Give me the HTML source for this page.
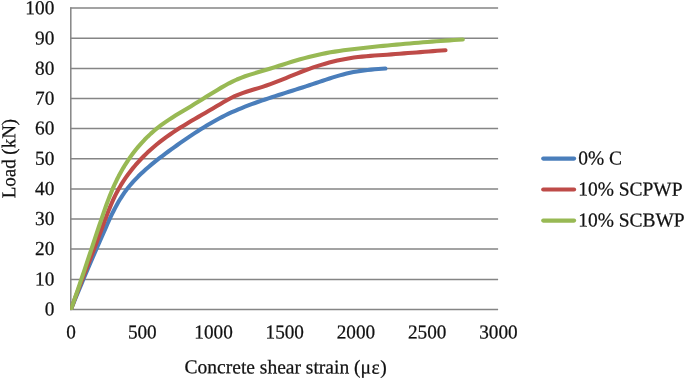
<!DOCTYPE html>
<html><head><meta charset="utf-8"><style>
html,body{margin:0;padding:0;background:#fff;}
svg{display:block;}
text{font-family:"Liberation Serif",serif;font-size:19.6px;fill:#111;stroke:#111;stroke-width:0.25;}
.g line{stroke:#858585;stroke-width:1.5;}
.s path{fill:none;stroke-width:4.1;stroke-linecap:round;stroke-linejoin:round;}
.l line{stroke-width:4.1;stroke-linecap:round;}
</style></head><body>
<svg width="685" height="379" viewBox="0 0 685 379">
<rect width="685" height="379" fill="#fff"/>
<g class="g">
<line x1="70.30" y1="309.60" x2="498.10" y2="309.60"/>
<line x1="70.30" y1="279.40" x2="498.10" y2="279.40"/>
<line x1="70.30" y1="249.10" x2="498.10" y2="249.10"/>
<line x1="70.30" y1="218.90" x2="498.10" y2="218.90"/>
<line x1="70.30" y1="189.00" x2="498.10" y2="189.00"/>
<line x1="70.30" y1="158.80" x2="498.10" y2="158.80"/>
<line x1="70.30" y1="128.50" x2="498.10" y2="128.50"/>
<line x1="70.30" y1="98.55" x2="498.10" y2="98.55"/>
<line x1="70.30" y1="68.50" x2="498.10" y2="68.50"/>
<line x1="70.30" y1="38.30" x2="498.10" y2="38.30"/>
<line x1="70.30" y1="8.05" x2="498.10" y2="8.05"/>
<line x1="70.8" y1="7.3" x2="70.8" y2="310.3"/>
</g>
<clipPath id="c"><rect x="70.2" y="0" width="440" height="310.1"/></clipPath>
<g class="s" clip-path="url(#c)">
<path stroke="#4a7ebb" d="M71.00 309.30 L72.35 305.95 L73.70 302.62 L75.05 299.30 L76.41 295.99 L77.78 292.69 L79.15 289.40 L80.52 286.11 L81.89 282.84 L83.27 279.57 L84.66 276.30 L86.05 273.04 L87.44 269.78 L88.84 266.53 L90.24 263.28 L91.64 260.02 L93.05 256.77 L94.47 253.52 L95.88 250.26 L97.30 247.00 L98.73 243.74 L100.16 240.47 L101.59 237.20 L103.03 233.91 L104.48 230.63 L105.93 227.33 L107.39 224.04 L108.88 220.75 L110.39 217.48 L111.94 214.23 L113.54 211.01 L115.18 207.82 L116.88 204.68 L118.65 201.58 L120.48 198.53 L122.40 195.55 L124.40 192.64 L126.49 189.79 L128.66 187.02 L130.92 184.31 L133.25 181.67 L135.66 179.09 L138.13 176.56 L140.67 174.08 L143.26 171.66 L145.90 169.28 L148.59 166.94 L151.32 164.65 L154.09 162.39 L156.89 160.16 L159.72 157.96 L162.57 155.79 L165.43 153.64 L168.31 151.51 L171.20 149.39 L174.09 147.29 L177.00 145.22 L179.91 143.15 L182.84 141.11 L185.78 139.09 L188.73 137.09 L191.69 135.12 L194.67 133.16 L197.66 131.23 L200.67 129.33 L203.69 127.45 L206.73 125.60 L209.79 123.78 L212.87 121.99 L215.97 120.24 L219.09 118.53 L222.24 116.87 L225.42 115.27 L228.63 113.72 L231.86 112.23 L235.12 110.79 L238.39 109.39 L241.68 108.04 L244.99 106.72 L248.31 105.44 L251.64 104.19 L254.98 102.96 L258.33 101.77 L261.70 100.60 L265.07 99.45 L268.45 98.32 L271.84 97.21 L275.23 96.11 L278.62 95.02 L282.02 93.94 L285.43 92.87 L288.83 91.80 L292.23 90.72 L295.64 89.65 L299.04 88.57 L302.44 87.49 L305.84 86.39 L309.23 85.28 L312.62 84.16 L316.00 83.02 L319.38 81.87 L322.75 80.73 L326.13 79.60 L329.52 78.49 L332.91 77.40 L336.30 76.36 L339.71 75.37 L343.14 74.43 L346.58 73.56 L350.04 72.76 L353.52 72.05 L357.02 71.42 L360.54 70.87 L364.07 70.39 L367.62 69.98 L371.17 69.61 L374.73 69.29 L378.29 69.01 L381.85 68.75 L385.41 68.52"/>
<path stroke="#be4b48" d="M71.00 309.30 L72.43 305.34 L73.87 301.40 L75.33 297.47 L76.80 293.55 L78.28 289.64 L79.78 285.73 L81.28 281.83 L82.79 277.94 L84.30 274.05 L85.82 270.16 L87.35 266.28 L88.87 262.40 L90.39 258.51 L91.91 254.62 L93.42 250.73 L94.93 246.83 L96.42 242.93 L97.91 239.02 L99.39 235.10 L100.86 231.17 L102.31 227.23 L103.76 223.29 L105.23 219.35 L106.72 215.42 L108.24 211.51 L109.81 207.62 L111.44 203.77 L113.14 199.95 L114.92 196.18 L116.80 192.45 L118.78 188.78 L120.87 185.18 L123.08 181.64 L125.39 178.17 L127.81 174.76 L130.32 171.42 L132.93 168.15 L135.63 164.95 L138.41 161.82 L141.27 158.76 L144.20 155.77 L147.21 152.85 L150.28 150.01 L153.42 147.24 L156.63 144.54 L159.88 141.92 L163.20 139.36 L166.56 136.88 L169.97 134.47 L173.42 132.12 L176.90 129.83 L180.43 127.59 L183.98 125.39 L187.55 123.23 L191.14 121.09 L194.75 118.97 L198.37 116.87 L201.99 114.77 L205.62 112.67 L209.25 110.57 L212.86 108.44 L216.47 106.30 L220.07 104.15 L223.68 102.04 L227.33 99.99 L231.01 98.03 L234.75 96.21 L238.57 94.56 L242.46 93.09 L246.42 91.75 L250.42 90.51 L254.45 89.32 L258.47 88.12 L262.48 86.87 L266.46 85.55 L270.40 84.15 L274.32 82.69 L278.22 81.17 L282.11 79.62 L285.98 78.05 L289.85 76.47 L293.72 74.88 L297.60 73.31 L301.48 71.77 L305.38 70.27 L309.30 68.82 L313.24 67.43 L317.21 66.11 L321.20 64.86 L325.21 63.68 L329.24 62.58 L333.30 61.55 L337.37 60.59 L341.46 59.72 L345.56 58.93 L349.68 58.22 L353.81 57.59 L357.96 57.05 L362.11 56.60 L366.28 56.21 L370.45 55.87 L374.63 55.57 L378.80 55.29 L382.98 55.00 L387.15 54.69 L391.32 54.38 L395.49 54.05 L399.65 53.73 L403.82 53.40 L407.99 53.08 L412.16 52.77 L416.33 52.46 L420.50 52.14 L424.66 51.82 L428.83 51.48 L432.99 51.12 L437.16 50.77 L441.33 50.45 L445.50 50.19"/>
<path stroke="#98b954" d="M71.00 309.30 L72.48 305.12 L73.95 300.93 L75.40 296.75 L76.85 292.55 L78.28 288.36 L79.71 284.16 L81.13 279.96 L82.55 275.76 L83.96 271.56 L85.36 267.35 L86.76 263.14 L88.16 258.93 L89.56 254.73 L90.95 250.52 L92.35 246.31 L93.75 242.10 L95.15 237.89 L96.55 233.68 L97.96 229.48 L99.37 225.27 L100.79 221.07 L102.22 216.87 L103.66 212.67 L105.12 208.48 L106.61 204.30 L108.15 200.15 L109.74 196.01 L111.39 191.90 L113.11 187.82 L114.92 183.78 L116.83 179.78 L118.83 175.82 L120.94 171.91 L123.16 168.06 L125.47 164.27 L127.89 160.54 L130.41 156.88 L133.04 153.30 L135.76 149.79 L138.58 146.37 L141.50 143.04 L144.52 139.80 L147.64 136.66 L150.85 133.62 L154.16 130.69 L157.57 127.88 L161.08 125.18 L164.66 122.60 L168.33 120.10 L172.05 117.69 L175.82 115.33 L179.62 113.01 L183.43 110.72 L187.26 108.44 L191.07 106.16 L194.86 103.85 L198.64 101.53 L202.40 99.19 L206.16 96.85 L209.92 94.52 L213.69 92.20 L217.46 89.90 L221.26 87.63 L225.09 85.43 L228.97 83.32 L232.90 81.33 L236.90 79.49 L240.97 77.81 L245.12 76.29 L249.33 74.90 L253.57 73.59 L257.83 72.33 L262.10 71.08 L266.36 69.80 L270.60 68.48 L274.83 67.15 L279.05 65.81 L283.28 64.46 L287.50 63.13 L291.73 61.82 L295.98 60.54 L300.23 59.30 L304.51 58.12 L308.79 56.99 L313.09 55.92 L317.41 54.91 L321.74 53.99 L326.09 53.13 L330.44 52.35 L334.81 51.62 L339.19 50.95 L343.58 50.32 L347.98 49.74 L352.38 49.20 L356.79 48.68 L361.20 48.18 L365.61 47.71 L370.03 47.24 L374.44 46.78 L378.85 46.33 L383.26 45.89 L387.68 45.46 L392.09 45.03 L396.50 44.62 L400.92 44.21 L405.33 43.81 L409.75 43.43 L414.16 43.05 L418.58 42.68 L423.00 42.32 L427.41 41.97 L431.83 41.62 L436.25 41.29 L440.67 40.97 L445.10 40.66 L449.52 40.35 L453.95 40.06 L458.37 39.78 L462.80 39.51"/>
</g>
<g opacity="0.999">
<text transform="translate(54.30 315.60) rotate(0.1) scale(0.975 1)" text-anchor="end" style="font-size:19.8px">0</text>
<text transform="translate(54.30 285.42) rotate(0.1) scale(0.975 1)" text-anchor="end" style="font-size:19.8px">10</text>
<text transform="translate(54.30 255.14) rotate(0.1) scale(0.975 1)" text-anchor="end" style="font-size:19.8px">20</text>
<text transform="translate(54.30 224.96) rotate(0.1) scale(0.975 1)" text-anchor="end" style="font-size:19.8px">30</text>
<text transform="translate(54.30 195.08) rotate(0.1) scale(0.975 1)" text-anchor="end" style="font-size:19.8px">40</text>
<text transform="translate(54.30 164.90) rotate(0.1) scale(0.975 1)" text-anchor="end" style="font-size:19.8px">50</text>
<text transform="translate(54.30 134.62) rotate(0.1) scale(0.975 1)" text-anchor="end" style="font-size:19.8px">60</text>
<text transform="translate(54.30 104.69) rotate(0.1) scale(0.975 1)" text-anchor="end" style="font-size:19.8px">70</text>
<text transform="translate(54.30 74.66) rotate(0.1) scale(0.975 1)" text-anchor="end" style="font-size:19.8px">80</text>
<text transform="translate(54.30 44.48) rotate(0.1) scale(0.975 1)" text-anchor="end" style="font-size:19.8px">90</text>
<text transform="translate(54.30 14.25) rotate(0.1) scale(0.975 1)" text-anchor="end" style="font-size:19.8px">100</text>
<text transform="translate(71.10 338.60) rotate(0.1) scale(0.970 1)" text-anchor="middle" style="font-size:19.8px">0</text>
<text transform="translate(142.32 338.60) rotate(0.1) scale(0.970 1)" text-anchor="middle" style="font-size:19.8px">500</text>
<text transform="translate(213.53 338.60) rotate(0.1) scale(0.970 1)" text-anchor="middle" style="font-size:19.8px">1000</text>
<text transform="translate(284.75 338.60) rotate(0.1) scale(0.970 1)" text-anchor="middle" style="font-size:19.8px">1500</text>
<text transform="translate(355.97 338.60) rotate(0.1) scale(0.970 1)" text-anchor="middle" style="font-size:19.8px">2000</text>
<text transform="translate(427.18 338.60) rotate(0.1) scale(0.970 1)" text-anchor="middle" style="font-size:19.8px">2500</text>
<text transform="translate(498.40 338.60) rotate(0.1) scale(0.970 1)" text-anchor="middle" style="font-size:19.8px">3000</text>
<text transform="translate(184.60 373.30) rotate(0.1) scale(0.995 1)" text-anchor="start">Concrete shear strain (μ<tspan dx="0.4">ε</tspan><tspan dx="0.6">)</tspan></text>
<text transform="translate(15.20 198.30) rotate(-89.9) scale(0.968 1)" text-anchor="start">Load (kN)</text>
<text transform="translate(578.30 164.50) rotate(0.1) scale(0.982 1)" text-anchor="start" style="font-size:19.8px">0% C</text>
<text transform="translate(578.30 195.50) rotate(0.1) scale(0.982 1)" text-anchor="start" style="font-size:19.8px">10% SCPWP</text>
<text transform="translate(578.30 226.40) rotate(0.1) scale(0.982 1)" text-anchor="start" style="font-size:19.8px">10% SCBWP</text>
</g>
<g class="l">
<line x1="543.2" y1="158.6" x2="574.1" y2="158.6" stroke="#4a7ebb"/>
<line x1="543.2" y1="189.5" x2="574.1" y2="189.5" stroke="#be4b48"/>
<line x1="543.2" y1="220.6" x2="574.1" y2="220.6" stroke="#98b954"/>
</g>
</svg>
</body></html>
